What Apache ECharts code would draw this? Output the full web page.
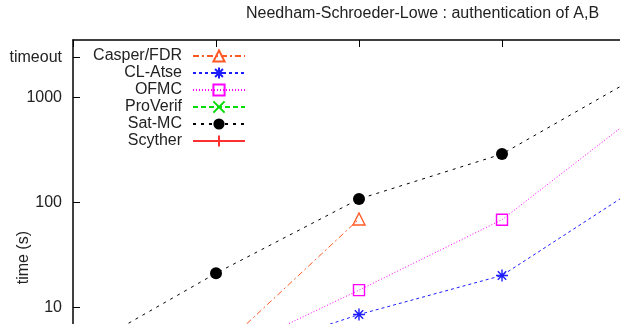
<!DOCTYPE html>
<html>
<head>
<meta charset="utf-8">
<script src="https://cdn.jsdelivr.net/npm/echarts@6/dist/echarts.min.js"></script>
<style>html,body{margin:0;padding:0;background:#fff}#c{width:620px;height:324px}</style>
</head>
<body>
<div id="c"></div>
<script>
// ---- data ----
const xValues = [0, 1, 2, 3, 4];
const casperFDR = [null, 3.7, 69, null, null];
const clAtse    = [null, 3.0, 8.5, 20, 153];
const ofmc      = [null, 3.25, 14.5, 68, 770];
const proVerif  = [0.1, 0.1, 0.1, 0.1, 0.1];
const satMC     = [3.5, 21, 107, 287, 1720];
const scyther   = [0.1, 0.1, 0.1, 0.1, 0.1];
const yTickValues = [10, 100, 1000, 2400];
const timeoutValue = 2400;
const titleText = 'Needham-Schroeder-Lowe : authentication of A,B';

const FONT = '"Liberation Sans", Arial, Helvetica, sans-serif';
function pairs(arr){ return xValues.map((x,i)=>[x, arr[i]]); }

const asterisk = 'path://M0,-1L0,1M-1,0L1,0M-0.7,-0.7L0.7,0.7M-0.7,0.7L0.7,-0.7';
const cross = 'path://M-1,-1L1,1M-1,1L1,-1';
const plus = 'path://M0,-1L0,1M-1,0L1,0';

function mk(name, arr, color, dash, symbol, filled, size){
  return {
    name, type:'line', data: pairs(arr), symbol, symbolSize: size || 11,
    connectNulls:false, clip:true, silent:true,
    lineStyle:{color, width:1, type: dash},
    itemStyle:{color: filled ? color : 'rgba(0,0,0,0)', borderColor: color, borderWidth: filled?0:1.4},
    emphasis:{disabled:true}
  };
}

const chart = echarts.init(document.getElementById('c'), null, {renderer:'canvas'});
chart.setOption({
  animation:false,
  backgroundColor:'#fff',
  title:{text:titleText, left:246, top:6, padding:0,
    textStyle:{fontFamily:FONT, fontSize:16, fontWeight:'normal', color:'#222'}},
  legend:{
    orient:'vertical', align:'right', right:374, top:48, padding:0,
    itemWidth:52, itemHeight:14, itemGap:1,
    textStyle:{fontFamily:FONT, fontSize:16, color:'#222', lineHeight:16, padding:[0,6,0,0]},
    data:['Casper/FDR','CL-Atse','OFMC','ProVerif','Sat-MC','Scyther']
  },
  grid:{left:73, top:40, width:572, height:435.3, containLabel:false, outerBoundsMode:'none'},
  xAxis:[
    {type:'value', position:'bottom', min:0, max:4, interval:1,
      axisLine:{lineStyle:{color:'#000', width:1.5}},
      axisTick:{inside:true, length:7, lineStyle:{color:'#000'}},
      axisLabel:{show:false}, splitLine:{show:false}},
    {type:'value', position:'top', min:0, max:4, interval:1,
      axisLine:{lineStyle:{color:'#000', width:1.5}},
      axisTick:{inside:true, length:7, lineStyle:{color:'#000'}},
      axisLabel:{show:false}, splitLine:{show:false}}
  ],
  yAxis:{
    type:'log', logBase:10, min:0.25, max:3500,
    name:'time (s)', nameLocation:'middle', nameRotate:90, nameGap:41, nameMoveOverlap:false,
    nameTextStyle:{fontFamily:FONT, fontSize:16, color:'#222'},
    axisLine:{lineStyle:{color:'#000', width:1.5}},
    axisTick:{inside:true, length:7, lineStyle:{color:'#000'}, customValues:yTickValues},
    axisLabel:{fontFamily:FONT, fontSize:16, color:'#222', margin:11, customValues:yTickValues,
      formatter:(v)=> (Math.abs(v-timeoutValue)<1 ? 'timeout' : String(Math.round(v)))},
    splitLine:{show:false}, minorTick:{show:false}
  },
  series:[
    mk('Casper/FDR', casperFDR, '#ff5a24', [6,3,2,3], 'triangle', false, 12),
    mk('CL-Atse', clAtse, '#1c1cff', [3,3], asterisk, false, 12),
    mk('OFMC', ofmc, '#ff00ff', [1,2], 'rect', false, 11),
    mk('ProVerif', proVerif, '#00dd00', [5,3], cross, false, 11),
    mk('Sat-MC', satMC, '#000000', [3,5], 'circle', true, 12),
    mk('Scyther', scyther, '#ff3030', 'solid', plus, false, 12)
  ]
});
</script>
</body>
</html>
